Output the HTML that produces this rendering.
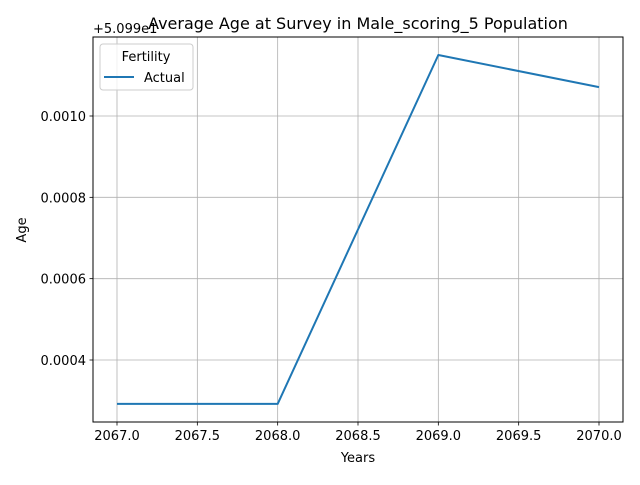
<!DOCTYPE html>
<html><head><meta charset="utf-8"><style>
body{margin:0;background:#fff}
svg text{font-family:"DejaVu Sans","Liberation Sans",sans-serif;fill:#000}
</style></head><body>
<svg id="chart" width="640" height="480" viewBox="0 0 640 480">
<rect width="640" height="480" fill="#fff"/>
<g id="grid"></g><g id="axes"></g><g id="series"></g>
<rect x="93" y="37" width="530" height="385" fill="none" stroke="#000" stroke-width="1"/>
<text x="358" y="29" font-size="16" text-anchor="middle">Average Age at Survey in Male_scoring_5 Population</text>
<text x="93" y="33" font-size="13">+5.099e1</text>
<text x="358" y="462" font-size="13" text-anchor="middle">Years</text>
<text x="26" y="230" font-size="13" text-anchor="middle" transform="rotate(-90 26 230)">Age</text>
<g>
<rect x="100" y="44" width="93" height="46" rx="3" fill="#fff" fill-opacity="0.8" stroke="#ccc"/>
<text x="146" y="61" font-size="13" text-anchor="middle">Fertility</text>
<line x1="104" y1="77" x2="134" y2="77" stroke="#1f77b4" stroke-width="2"/>
<text x="144" y="82" font-size="13">Actual</text>
</g>
</svg>
<script>
const years=[2067,2068,2069,2070];
const ageOffsets=[0.000292,0.000292,0.00115,0.001071];
const xTicks=[2067,2067.5,2068,2068.5,2069,2069.5,2070];
const xTickLabels=["2067.0","2067.5","2068.0","2068.5","2069.0","2069.5","2070.0"];
const yTicks=[0.0004,0.0006,0.0008,0.0010];
const yTickLabels=["0.0004","0.0006","0.0008","0.0010"];
const NS="http://www.w3.org/2000/svg";
function xs(v){return 117+(v-2067)*(599-117)/3;}
function ys(v){return 116-(v-0.0010)*(360-116)/0.0006;}
function mk(t,a,p){const e=document.createElementNS(NS,t);for(const k in a)e.setAttribute(k,a[k]);p.appendChild(e);return e;}
const grid=document.getElementById('grid'),axes=document.getElementById('axes'),ser=document.getElementById('series');
xTicks.forEach((v,i)=>{const x=xs(v);
const g=mk('line',{x1:x,x2:x,y1:37,y2:422,stroke:'#b0b0b0','stroke-width':0.8},grid);


const t=mk('line',{x1:x,x2:x,y1:422,y2:425.5,stroke:'#000','stroke-width':0.8},axes);


const l=mk('text',{x:x,y:440,'font-size':13,'text-anchor':'middle'},axes);l.textContent=xTickLabels[i];

});
yTicks.forEach((v,i)=>{const y=ys(v);
const g=mk('line',{x1:93,x2:623,y1:y,y2:y,stroke:'#b0b0b0','stroke-width':0.8},grid);


const t=mk('line',{x1:89.5,x2:93,y1:y,y2:y,stroke:'#000','stroke-width':0.8},axes);


const l=mk('text',{x:86,y:y+5,'font-size':13,'text-anchor':'end'},axes);l.textContent=yTickLabels[i];

});
const pts=years.map((y,i)=>xs(y)+','+ys(ageOffsets[i])).join(' ');
const pl=mk('polyline',{points:pts,fill:'none',stroke:'#1f77b4','stroke-width':2,'stroke-linejoin':'round'},ser);


</script>
</body></html>
